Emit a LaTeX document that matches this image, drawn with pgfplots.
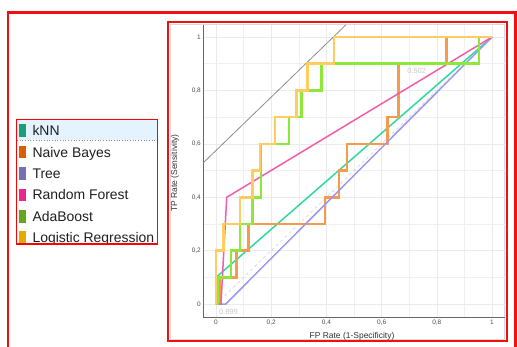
\documentclass[border=0pt]{standalone}
\usepackage{pgfplots}
\pgfplotsset{compat=1.18}
\usepackage{fontspec}
\setmainfont{Liberation Sans}
\definecolor{cKNN}{HTML}{2ED8A0}
\definecolor{cNB}{HTML}{F89A4C}
\definecolor{cTree}{HTML}{9C98EE}
\definecolor{cRF}{HTML}{F25DAA}
\definecolor{cAda}{HTML}{8EE83A}
\definecolor{cLR}{HTML}{FFCC60}
\definecolor{dKNN}{HTML}{1B9E77}
\definecolor{dNB}{HTML}{D95F02}
\definecolor{dTree}{HTML}{7570B3}
\definecolor{dRF}{HTML}{E7298A}
\definecolor{dAda}{HTML}{66A61E}
\definecolor{dLR}{HTML}{E6AB02}
\definecolor{frameRed}{HTML}{F01010}
\definecolor{selBlue}{HTML}{E5F3FF}
\begin{document}
\begin{tikzpicture}
\useasboundingbox (0,0) rectangle (517bp,347bp);
% outer frame
\draw[frameRed, line width=2.2bp] (8bp,-13bp) rectangle (515.5bp,334.5bp);
% inner frame
\draw[frameRed, line width=2bp] (168bp,6bp) rectangle (507bp,325bp);
\draw[black!15, line width=0.6bp] (170.5bp,7.5bp) rectangle (504.5bp,323bp);
% legend
\fill[selBlue] (17bp,206.5bp) rectangle (157bp,227bp);
\draw[black!45, dotted, line width=0.7bp] (17bp,206.5bp) -- (157bp,206.5bp);
\begin{scope}
\clip (16.5bp,103bp) rectangle (157.5bp,227.5bp);
\fill[dKNN] (18.5bp,210.0bp) rectangle (25.5bp,222.5bp);
\node[anchor=base west, inner sep=0, font=\fontsize{14}{16}\selectfont, text=black!88] at (32.3bp,211.3bp) {kNN};
\fill[dNB] (18.5bp,188.6bp) rectangle (25.5bp,201.1bp);
\node[anchor=base west, inner sep=0, font=\fontsize{14}{16}\selectfont, text=black!88] at (32.3bp,189.9bp) {Naive Bayes};
\fill[dTree] (18.5bp,167.2bp) rectangle (25.5bp,179.7bp);
\node[anchor=base west, inner sep=0, font=\fontsize{14}{16}\selectfont, text=black!88] at (32.3bp,168.5bp) {Tree};
\fill[dRF] (18.5bp,145.8bp) rectangle (25.5bp,158.3bp);
\node[anchor=base west, inner sep=0, font=\fontsize{14}{16}\selectfont, text=black!88] at (32.3bp,147.1bp) {Random Forest};
\fill[dAda] (18.5bp,124.4bp) rectangle (25.5bp,136.9bp);
\node[anchor=base west, inner sep=0, font=\fontsize{14}{16}\selectfont, text=black!88] at (32.3bp,125.7bp) {AdaBoost};
\fill[dLR] (18.5bp,103.0bp) rectangle (25.5bp,115.5bp);
\node[anchor=base west, inner sep=0, font=\fontsize{14}{16}\selectfont, text=black!88] at (32.3bp,104.3bp) {Logistic Regression};
\end{scope}
\draw[draw=red, line width=1.3bp] (16.5bp,103bp) rectangle (157.5bp,227.5bp);
% axis
\begin{axis}[
  scale only axis, width=302bp, height=293bp,
  at={(203bp,29bp)}, anchor=south west,
  xmin=-0.047, xmax=1.047, ymin=-0.052, ymax=1.045,
  axis lines=left,
  axis line style={-, draw=black!60, line width=1bp},
  xtick={0,0.2,0.4,0.6,0.8,1}, ytick={0,0.2,0.4,0.6,0.8,1},
  minor xtick={0.1,0.3,0.5,0.7,0.9}, minor ytick={0.1,0.3,0.5,0.7,0.9},
  grid=both,
  major grid style={draw=black!8, line width=0.6bp},
  minor grid style={draw=black!6, line width=0.5bp},
  major tick length=0pt, minor tick length=0pt,
  /pgf/number format/use comma,
  /pgf/number format/assume math mode=true,
  tick label style={font=\fontsize{6.5}{7}\selectfont, text=black!70},
  xticklabel style={inner sep=1.5bp},
  yticklabel style={inner sep=2bp},
  clip=false,
]
\addplot[black!45, line width=0.8bp] coordinates {(-0.047,0.528) (0.47,1.045)};
\addplot[black!18, dashed, line width=0.6bp] coordinates {(0,0) (1,1)};
\addplot[cKNN, line width=1.5bp] coordinates {(0,0) (0,0.1) (1,1)};
\addplot[cNB, line width=2.6bp] coordinates {(0,0) (0.015,0) (0.015,0.1) (0.075,0.1) (0.075,0.2) (0.117,0.2) (0.117,0.3) (0.395,0.3) (0.395,0.4) (0.446,0.4) (0.446,0.5) (0.474,0.5) (0.474,0.6) (0.622,0.6) (0.622,0.7) (0.661,0.7) (0.661,0.9) (0.836,0.9) (0.836,1) (1,1)};
\addplot[cTree, line width=1.5bp] coordinates {(0,0) (0.035,0) (1,1)};
\addplot[cRF, line width=1.5bp] coordinates {(0,0) (0.018,0) (0.039,0.4) (1,1)};
\addplot[cAda, line width=2.6bp] coordinates {(0,0) (0.008,0) (0.008,0.1) (0.054,0.1) (0.054,0.2) (0.087,0.2) (0.087,0.3) (0.132,0.3) (0.132,0.4) (0.163,0.4) (0.163,0.6) (0.264,0.6) (0.264,0.7) (0.31,0.7) (0.31,0.8) (0.383,0.8) (0.383,0.9) (0.953,0.9) (0.953,1) (1,1)};
\addplot[cLR, line width=2.6bp] coordinates {(0,0) (0,0.2) (0.027,0.2) (0.027,0.3) (0.087,0.3) (0.087,0.4) (0.132,0.4) (0.132,0.5) (0.159,0.5) (0.159,0.6) (0.214,0.6) (0.214,0.7) (0.292,0.7) (0.292,0.8) (0.331,0.8) (0.331,0.9) (0.428,0.9) (0.428,1) (1,1)};
\node[font=\fontsize{7.5}{8}\selectfont, text=black!22] at (axis cs:0.727,0.873) {0.502};
\node[font=\fontsize{7.5}{8}\selectfont, text=black!22] at (axis cs:0.045,-0.03) {0.899};
\end{axis}
\node[font=\fontsize{8.5}{10}\selectfont, text=black!80] at (352bp,11bp) {FP Rate (1-Specificity)};
\node[font=\fontsize{8.5}{10}\selectfont, text=black!80, rotate=90] at (175bp,174bp) {TP Rate (Sensitivity)};
\end{tikzpicture}
\end{document}
